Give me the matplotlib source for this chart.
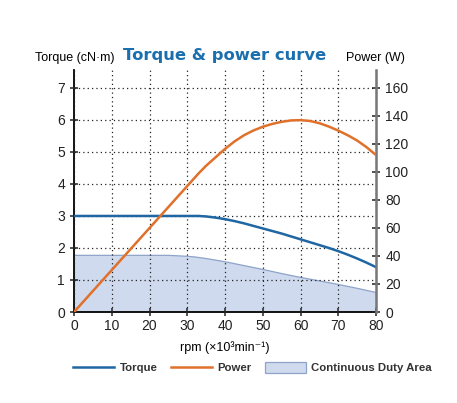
import matplotlib
matplotlib.use("Agg")
import matplotlib.pyplot as plt
import matplotlib.lines as mlines
import matplotlib.patches as mpatches

plt.rcParams.update({
    "font.family": ["Liberation Sans", "DejaVu Sans"],
    "font.size": 10,
})

# data
rpm = [0, 10, 20, 25, 30, 33, 35, 36, 38, 40, 42.5, 45, 47.5, 50, 52.5, 55, 57.5,
       60, 62.5, 65, 67.5, 70, 72.5, 75, 77.5, 80]
torque = [3.0, 3.0, 3.0, 3.0, 3.0, 3.0, 2.985, 2.97, 2.94, 2.9, 2.84, 2.77, 2.69,
          2.61, 2.53, 2.45, 2.36, 2.27, 2.18, 2.09, 2.0, 1.9, 1.79, 1.67, 1.54, 1.40]
power_rpm = [0, 10, 20, 30, 33, 35, 37.5, 40, 42.5, 45, 47.5, 50, 52.5, 55, 57.5,
             60, 62.5, 65, 67.5, 70, 72.5, 75, 77.5, 80]
power = [0, 30, 60, 90, 99, 104.5, 110.5, 116.5, 121.8, 126.2, 129.6, 132.3, 134.3,
         135.8, 136.8, 137, 136.4, 134.8, 132.4, 129.5, 126.2, 122.4, 117.6, 112]
duty_rpm = [0, 10, 20, 25, 30, 32, 35, 40, 45, 50, 55, 60, 65, 70, 75, 80]
duty = [1.77, 1.77, 1.77, 1.77, 1.74, 1.72, 1.67, 1.57, 1.45, 1.33, 1.2, 1.08,
        0.97, 0.86, 0.74, 0.61]

x_ticks = [0, 10, 20, 30, 40, 50, 60, 70, 80]
y_ticks = [0, 1, 2, 3, 4, 5, 6, 7]
p_ticks = [0, 20, 40, 60, 80, 100, 120, 140, 160]

BLUE = "#1f66a3"
ORANGE = "#e0702a"
FILL = "#cfdaee"
FILL_EDGE = "#8ea3c8"

fig = plt.figure(figsize=(4.57, 4.03), dpi=100)
ax = fig.add_axes([0.162, 0.2258, 0.661, 0.6005])
ymax = 7.56
ratio = 160 / 7

ax.fill_between(duty_rpm, duty, 0, facecolor=FILL, edgecolor="none", zorder=1)
ax.plot(duty_rpm, duty, color=FILL_EDGE, lw=0.9, zorder=1.5)
ax.plot(rpm, torque, color=BLUE, lw=1.8, zorder=4)

ax.set_xlim(0, 80)
ax.set_ylim(0, ymax)
ax.set_xticks(x_ticks)
ax.set_yticks(y_ticks)
ax.grid(True, linestyle=(0, (1, 2.5)), color="#222222", lw=0.9)
ax.set_axisbelow(False)
for g in ax.get_xgridlines() + ax.get_ygridlines():
    g.set_zorder(2)
ax.spines["top"].set_visible(False)
ax.spines["right"].set_visible(False)
ax.spines["left"].set_linewidth(1.3)
ax.spines["bottom"].set_linewidth(1.3)
ax.tick_params(direction="inout", length=6, width=1.1, labelsize=10, colors="#222222")
ax.tick_params(axis="x", pad=2)

ax2 = ax.twinx()
ax2.set_ylim(0, ymax * ratio)
ax2.set_yticks(p_ticks)
ax2.plot(power_rpm, power, color=ORANGE, lw=1.8, zorder=5)
ax2.spines["top"].set_visible(False)
ax2.spines["left"].set_visible(False)
ax2.spines["bottom"].set_visible(False)
ax2.spines["right"].set_color("#777777")
ax2.spines["right"].set_linewidth(1.8)
ax2.tick_params(direction="inout", length=6, width=1.1, labelsize=10, colors="#222222")

fig.text(0.163, 0.857, "Torque (cN\u00b7m)", ha="center", va="center", fontsize=9)
fig.text(0.821, 0.857, "Power (W)", ha="center", va="center", fontsize=9)
fig.text(0.492, 0.862, "Torque & power curve", ha="center", va="center",
         fontsize=11.8, fontweight="bold", color="#1a6fae", family="DejaVu Sans")
fig.text(0.492, 0.138, "rpm (\u00d710\u00b3min\u207b\u00b9)", ha="center", va="center", fontsize=9)

handles = [
    mlines.Line2D([], [], color=BLUE, lw=1.8, label="Torque"),
    mlines.Line2D([], [], color=ORANGE, lw=1.8, label="Power"),
    mpatches.Patch(facecolor=FILL, edgecolor=FILL_EDGE, lw=0.9, label="Continuous Duty Area"),
]
leg = fig.legend(handles=handles, loc="center", bbox_to_anchor=(0.553, 0.088), ncol=3,
                 frameon=False, fontsize=8.2, handlelength=3.6, handleheight=1.2,
                 columnspacing=1.2, handletextpad=0.45)
for t in leg.get_texts():
    t.set_fontweight("bold")
    t.set_color("#333333")

fig.savefig("out.png", dpi=100)
